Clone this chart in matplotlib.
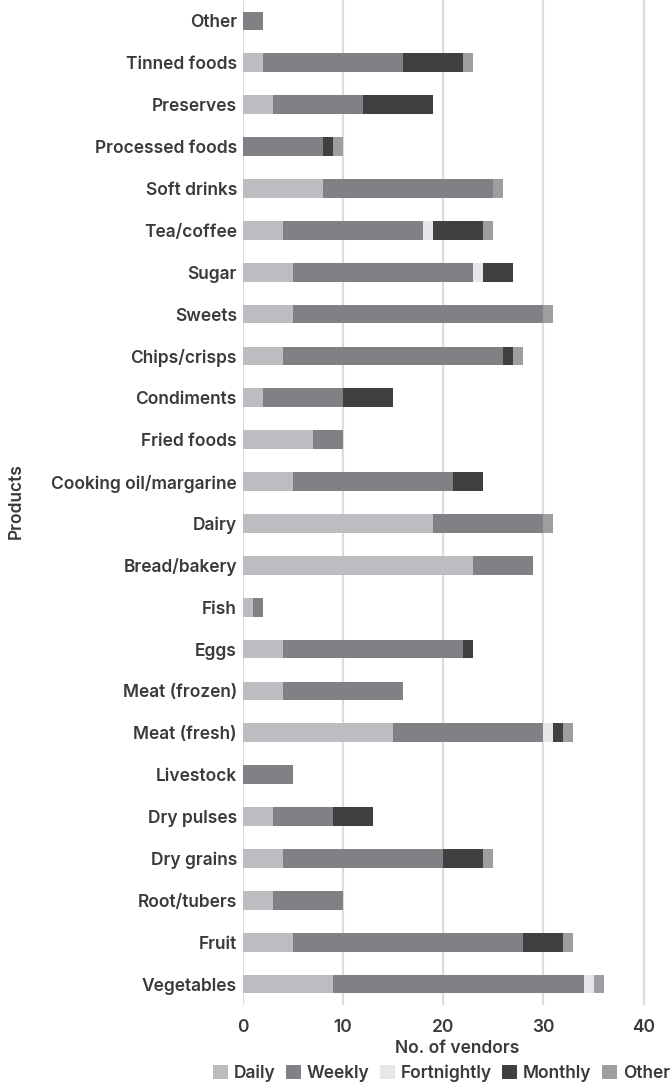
import matplotlib
matplotlib.use("Agg")
import matplotlib.pyplot as plt
import numpy as np

plt.rcParams['font.family'] = ['Inter', 'DejaVu Sans']

categories = ["Vegetables", "Fruit", "Root/tubers", "Dry grains", "Dry pulses", "Livestock",
              "Meat (fresh)", "Meat (frozen)", "Eggs", "Fish", "Bread/bakery", "Dairy",
              "Cooking oil/margarine", "Fried foods", "Condiments", "Chips/crisps", "Sweets",
              "Sugar", "Tea/coffee", "Soft drinks", "Processed foods", "Preserves",
              "Tinned foods", "Other"]
daily       = [9, 5, 3, 4, 3, 0, 15, 4, 4, 1, 23, 19, 5, 7, 2, 4, 5, 5, 4, 8, 0, 3, 2, 0]
weekly      = [25, 23, 7, 16, 6, 5, 15, 12, 18, 1, 6, 11, 16, 3, 8, 22, 25, 18, 14, 17, 8, 9, 14, 2]
fortnightly = [1, 0, 0, 0, 0, 0, 1, 0, 0, 0, 0, 0, 0, 0, 0, 0, 0, 1, 1, 0, 0, 0, 0, 0]
monthly     = [0, 4, 0, 4, 4, 0, 1, 0, 1, 0, 0, 0, 3, 0, 5, 1, 0, 3, 5, 0, 1, 7, 6, 0]
other       = [1, 1, 0, 1, 0, 0, 1, 0, 0, 0, 0, 1, 0, 0, 0, 1, 1, 0, 1, 1, 1, 0, 1, 0]

series_names = ["Daily", "Weekly", "Fortnightly", "Monthly", "Other"]
series = [daily, weekly, fortnightly, monthly, other]
colors = ["#bcbdc1", "#808184", "#e6e7e8", "#404041", "#9d9ea2"]
xticks = [0, 10, 20, 30, 40]

W, H = 671, 1084
fig = plt.figure(figsize=(W / 100, H / 100), dpi=100)
ax = fig.add_axes([242.5 / W, 1 - 1005 / H, (W - 242.5) / W, 1005 / H])

y = np.arange(len(categories))
left = np.zeros(len(categories))
handles = []
for name, vals, c in zip(series_names, series, colors):
    v = np.array(vals, dtype=float)
    b = ax.barh(y, v, left=left, height=0.45, color=c, label=name, zorder=3, linewidth=0)
    handles.append(b)
    left += v

txt = "#3a3a3a"
fs = 12.5
fw = 600
ax.set_xlim(0, (W - 242.5) / 10.03)
ax.set_ylim(-0.5, len(categories) - 0.5)
ax.set_xticks(xticks)
ax.set_xticklabels([str(t) for t in xticks])
ax.set_yticks(y)
ax.set_yticklabels(categories)
ax.tick_params(axis='both', length=0, labelsize=fs, colors=txt)
ax.tick_params(axis='y', pad=4)
ax.tick_params(axis='x', pad=10)
for lab in ax.get_yticklabels() + ax.get_xticklabels():
    lab.set_fontweight(fw)
ax.xaxis.grid(True, color="#dcdcdc", linewidth=1.6, zorder=0)
for s in ax.spines.values():
    s.set_visible(False)

ax.set_xlabel("No. of vendors", fontsize=fs, color=txt, fontweight=fw, labelpad=3)
fig.text(16 / W, 1 - 501 / H, "Products", rotation=90, ha='center', va='center',
         fontsize=fs, color=txt, fontweight=fw)

leg = fig.legend(handles=handles, labels=series_names, loc='center right',
                 bbox_to_anchor=(670 / W, 1 - 1073 / H), ncol=5, frameon=False,
                 fontsize=fs, handlelength=0.85, handleheight=0.85, handletextpad=0.35,
                 columnspacing=0.6, borderaxespad=0, borderpad=0)
for t in leg.get_texts():
    t.set_color(txt)
    t.set_fontweight(fw)

fig.savefig("out.png", dpi=100)
